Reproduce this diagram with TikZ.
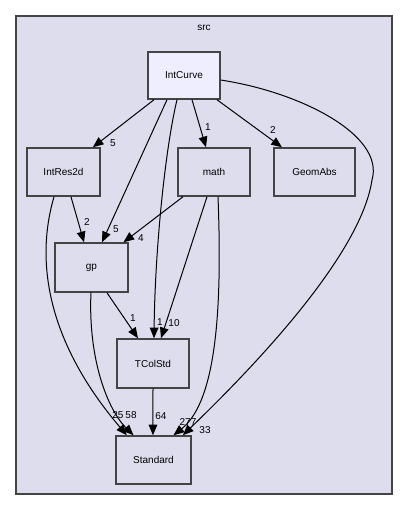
\documentclass[tikz,border=0pt]{standalone}
\usepackage{fontspec}
\setmainfont{Liberation Sans}
\usetikzlibrary{arrows.meta}
\definecolor{framefill}{HTML}{DDDDEE}
\definecolor{topfill}{HTML}{EEEEFF}
\definecolor{edgegray}{HTML}{444444}
\tikzset{
  dirbox/.style={draw=edgegray, line width=1.1pt, fill=framefill, inner sep=0pt, font=\fontsize{7.5pt}{9pt}\selectfont},
  dep/.style={draw=black, line width=0.75pt, -{Triangle[length=8pt,width=6.5pt]}},
  lbl/.style={font=\fontsize{7.5pt}{9pt}\selectfont, inner sep=0pt}
}
\begin{document}
\begin{tikzpicture}[x=0.75pt,y=-0.75pt]
\useasboundingbox (0,0) rectangle (408,511);
\fill[white] (0,0) rectangle (408,511);
% frame
\draw[draw=edgegray, line width=1.5pt, fill=framefill] (16,16) rectangle (392,494);
\node[lbl] (src) at (204,28) {src};
% nodes
\node[dirbox, fill=topfill, minimum width=54pt, minimum height=35.25pt] (IntCurve) at (184,75.5) {IntCurve};
\node[dirbox, minimum width=54.75pt, minimum height=36pt] (IntRes2d) at (63.5,172) {IntRes2d};
\node[dirbox, minimum width=54pt, minimum height=36pt] (math) at (214,172) {math};
\node[dirbox, minimum width=60.75pt, minimum height=36pt] (GeomAbs) at (314.5,172) {GeomAbs};
\node[dirbox, minimum width=54.75pt, minimum height=36.75pt] (gp) at (91.5,267.5) {gp};
\node[dirbox, minimum width=54pt, minimum height=36.75pt] (TColStd) at (153,363.5) {TColStd};
\node[dirbox, minimum width=56.25pt, minimum height=36pt] (Standard) at (153.5,460) {Standard};
% edges from IntCurve
\draw[dep] ([xshift=-22.5pt]IntCurve.south) -- ([xshift=22pt]IntRes2d.north);
\node[lbl] at (113,143) {5};
\draw[dep] ([xshift=-12.75pt]IntCurve.south) -- ([xshift=7.9pt]gp.north);
\node[lbl] at (116,229) {5};
\draw[dep] ([xshift=-5.25pt]IntCurve.south) .. controls (165,150) and (155,250) .. ([xshift=0.75pt]TColStd.north);
\node[lbl] at (160,322) {1};
\draw[dep] ([xshift=6pt]IntCurve.south) -- ([xshift=-6pt]math.north);
\node[lbl] at (208,127) {1};
\draw[dep] ([xshift=24.75pt]IntCurve.south) -- ([xshift=-24.4pt]GeomAbs.north);
\node[lbl] at (273,130) {2};
\draw[dep] ([yshift=-3.4pt]IntCurve.east) .. controls (300,92) and (385,135) .. (372,180) .. controls (360,260) and (240,380) .. ([xshift=22pt]Standard.north);
\node[lbl] at (205,430) {33};
% IntRes2d
\draw[dep] ([xshift=5.6pt]IntRes2d.south) -- ([xshift=-5.6pt]gp.north);
\node[lbl] at (87,222) {2};
\draw[dep] ([xshift=-7.1pt]IntRes2d.south) .. controls (34,265) and (50,345) .. ([xshift=-20pt]Standard.north);
\node[lbl] at (118,415) {25};
% math
\draw[dep] ([xshift=-23.25pt]math.south) -- ([xshift=24pt]gp.north);
\node[lbl] at (141,238) {4};
\draw[dep] ([xshift=-5.25pt]math.south) -- ([xshift=6pt]TColStd.north);
\node[lbl] at (174,323) {10};
\draw[dep] ([xshift=3pt]math.south) .. controls (222,300) and (218,400) .. ([xshift=15pt]Standard.north);
\node[lbl] at (188,422) {277};
% gp
\draw[dep] ([xshift=11.6pt]gp.south) -- ([xshift=-11.25pt]TColStd.north);
\node[lbl] at (133,318) {1};
\draw[dep] ([xshift=-0.4pt]gp.south) .. controls (88,360) and (108,410) .. ([xshift=-15pt]Standard.north);
\node[lbl] at (131,415) {58};
% TColStd
\draw[dep] (TColStd.south) -- ([xshift=-0.4pt]Standard.north);
\node[lbl] at (161,416) {64};
\end{tikzpicture}
\end{document}
